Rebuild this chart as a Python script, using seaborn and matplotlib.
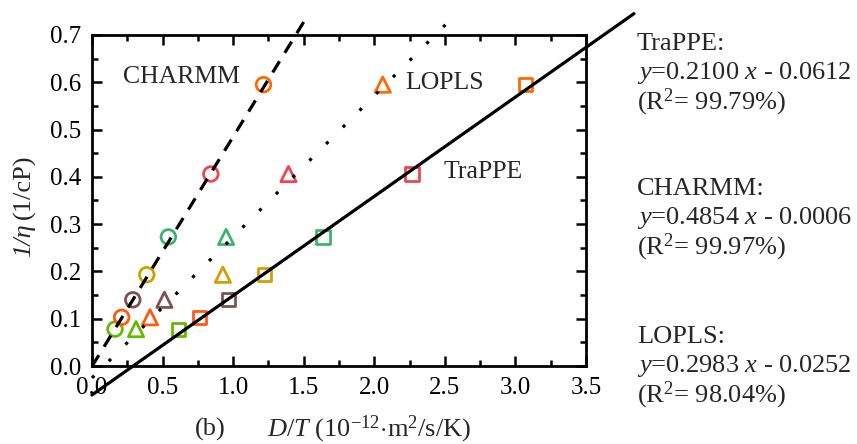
import numpy as np
import pandas as pd
import matplotlib
matplotlib.use("Agg")
import matplotlib.pyplot as plt
from matplotlib.ticker import MultipleLocator, FormatStrFormatter
import seaborn as sns

# Inverse viscosity for each state point (1/cP)
inv_eta = [0.078, 0.103, 0.140, 0.193, 0.273, 0.406, 0.595]
# D/T for each force field (1e-12 m^2/s/K)
charmm_dt = [0.163, 0.210, 0.289, 0.388, 0.541, 0.842, 1.215]
lopls_dt = [0.312, 0.411, 0.513, 0.927, 0.950, 1.392, 2.060]
trappe_dt = [0.612, 0.761, 0.967, 1.220, 1.636, 2.267, 3.070]

state_colors = ["#66B800", "#FF5A14", "#7D5252", "#D1A000",
                "#3DB370", "#EE4553", "#FF6A00"]

# Linear fits: slope, intercept, R^2 (%)
fits = {
    "TraPPE": (0.2100, -0.0612, 99.79),
    "CHARMM": (0.4854, -0.0006, 99.97),
    "LOPLS": (0.2983, -0.0252, 98.04),
}
fit_xrange = {"TraPPE": (0.0, 3.84), "CHARMM": (0.0, 1.50), "LOPLS": (0.0, 2.60)}
fit_style = {"TraPPE": "-", "CHARMM": (0, (4.1, 3.1)), "LOPLS": (0, (1, 6.4))}

sns.set_theme(style="ticks")
plt.rcParams["font.family"] = ["Liberation Serif", "DejaVu Serif"]
plt.rcParams["mathtext.fontset"] = "custom"
plt.rcParams["mathtext.rm"] = "Liberation Serif"
plt.rcParams["mathtext.it"] = "Liberation Serif:italic"
plt.rcParams["mathtext.bf"] = "Liberation Serif:bold"

fig = plt.figure(figsize=(8.57, 4.44), dpi=100)
ax = fig.add_axes([92 / 857, 1 - 366 / 444, 494 / 857, 331 / 444])

state = list(range(len(inv_eta)))
series = [("CHARMM", charmm_dt, "o", 10.5),
          ("LOPLS", lopls_dt, "^", 11.0),
          ("TraPPE", trappe_dt, "s", 9.5)]

for name, dt, marker, ms in series:
    df = pd.DataFrame({"x": dt, "y": inv_eta, "state": state})
    before = len(ax.collections)
    sns.scatterplot(data=df, x="x", y="y", hue="state",
                    palette=state_colors, marker=marker, s=ms ** 2,
                    linewidth=2.0, legend=False, ax=ax, zorder=3,
                    clip_on=False)
    pts = ax.collections[before]
    pts.set_edgecolors([state_colors[i] for i in state])
    pts.set_facecolors("none")

for name, (slope, icpt, r2) in fits.items():
    x0, x1 = fit_xrange[name]
    xs = np.array([x0, x1])
    line_df = pd.DataFrame({"x": xs, "y": slope * xs + icpt})
    sns.lineplot(data=line_df, x="x", y="y", ax=ax, color="black",
                 linewidth=2.3, zorder=4)
    ln = ax.lines[-1]
    ln.set_linestyle(fit_style[name])
    ln.set_clip_on(False)

ax.set_xlim(0, 3.5)
ax.set_ylim(0, 0.7)
ax.xaxis.set_major_locator(MultipleLocator(0.5))
ax.xaxis.set_minor_locator(MultipleLocator(0.25))
ax.yaxis.set_major_locator(MultipleLocator(0.1))
ax.yaxis.set_minor_locator(MultipleLocator(0.05))
ax.xaxis.set_major_formatter(FormatStrFormatter("%.1f"))
ax.yaxis.set_major_formatter(FormatStrFormatter("%.1f"))
ax.tick_params(which="both", direction="in", top=True, right=True,
               width=1.8, colors="black", labelsize=18)
ax.tick_params(which="major", length=7, pad=8)
ax.tick_params(which="minor", length=4)
for sp in ax.spines.values():
    sp.set_linewidth(2.0)
    sp.set_color("black")
ax.set_xlabel("")
ax.set_ylabel("")

# In-plot series labels
ax.text(0.22, 0.611, "CHARMM", fontsize=18.5, va="center", ha="left")
ax.text(2.22, 0.598, "LOPLS", fontsize=18.5, va="center", ha="left")
ax.text(2.49, 0.411, "TraPPE", fontsize=18.5, va="center", ha="left")

# y-axis title: italic quantity followed by upright unit
yl_x = 24 / 857
yl_part1 = fig.text(yl_x, 1 - 257 / 444, "1/η", rotation=90, fontsize=19,
                    style="italic", ha="center", va="bottom")
fig.canvas.draw()
bb = yl_part1.get_window_extent(fig.canvas.get_renderer())
fig.text(yl_x, (bb.y1 + 4) / fig.bbox.height, "(1/cP)", rotation=90,
         fontsize=19, ha="center", va="bottom")

# x-axis title and panel tag
fig.text(369 / 857, 1 - 429 / 444,
         r"$D/T$ (10$^{-12}$$\cdot$m$^2$/s/K)", fontsize=19,
         ha="center", va="center")
fig.text(195 / 857, 1 - 429 / 444, "(b)", fontsize=19,
         ha="left", va="center")

# Fit equations beside the axes
blocks = [("TraPPE", 44), ("CHARMM", 189), ("LOPLS", 337)]
for name, ytop in blocks:
    slope, icpt, r2 = fits[name]
    sign = "-" if icpt < 0 else "+"
    lines = [f"{name}:",
             rf"$y$={slope:.4f} $x$ {sign} {abs(icpt):.4f}",
             rf"(R$^2$= {r2:.2f}%)"]
    for k, txt in enumerate(lines):
        fig.text(637 / 857, 1 - (ytop + 29 * k) / 444, txt, fontsize=19,
                 ha="left", va="center")

fig.savefig("out.png", dpi=100)
